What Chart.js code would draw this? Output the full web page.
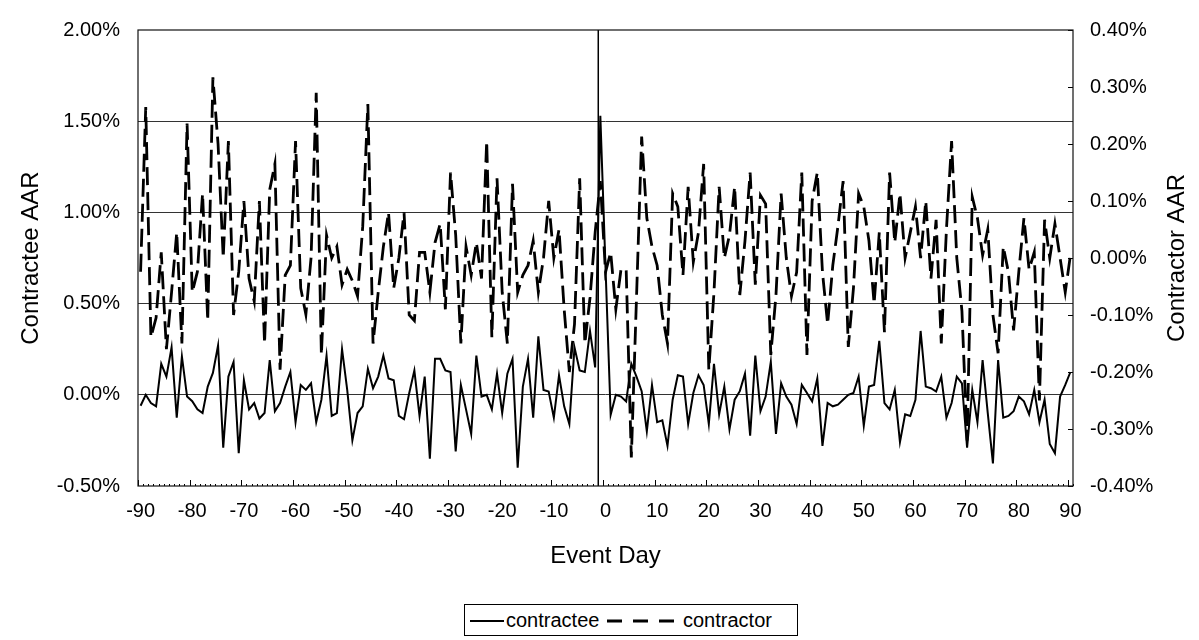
<!DOCTYPE html>
<html>
<head>
<meta charset="utf-8">
<script src="https://cdn.jsdelivr.net/npm/chart.js@4.4.1/dist/chart.umd.min.js"></script>
<style>
html,body{margin:0;padding:0;background:#fff;}
#wrap{position:relative;width:1199px;height:640px;overflow:hidden;}
#chart{position:absolute;left:0;top:0;}
#legend{position:absolute;left:464px;top:604px;width:334px;height:32px;border:1px solid #000;box-sizing:border-box;background:#fff;
  font-family:"Liberation Sans",Arial,Helvetica,sans-serif;font-size:20px;color:#000;}
#legend .item{position:absolute;top:3px;line-height:24px;white-space:nowrap;}
#legend svg{position:absolute;top:14px;}
</style>
</head>
<body>
<div id="wrap">
<canvas id="chart" width="1199" height="640"></canvas>
<div id="legend">
  <svg style="left:5px" width="34" height="4"><line x1="0" y1="2" x2="34" y2="2" stroke="#000" stroke-width="2"/></svg>
  <span class="item" style="left:41px">contractee</span>
  <svg style="left:142px" width="68" height="4"><line x1="0" y1="2" x2="68" y2="2" stroke="#000" stroke-width="3" stroke-dasharray="15 11"/></svg>
  <span class="item" style="left:218px">contractor</span>
</div>
</div>
<script>
// ---- data ----
const firstDay = -90, lastDay = 90;
const days = [];
for (let d = firstDay; d <= lastDay; d++) days.push(d);

// Contractee AAR (%), days -90..90
const contractee = [
  -0.06, 0.00, -0.045, -0.063, 0.17, 0.10, 0.26, -0.125, 0.21, -0.01,     // -90..-81
  -0.035, -0.08, -0.10, 0.045, 0.12, 0.27, -0.29, 0.10, 0.18, -0.32,      // -80..-71
  0.08, -0.08, -0.045, -0.13, -0.10, 0.19, -0.09, -0.045, 0.045, 0.125,   // -70..-61
  -0.15, 0.054, 0.027, 0.063, -0.15, -0.027, 0.215, -0.116, -0.10, 0.25,  // -60..-51
  0.027, -0.25, -0.10, -0.063, 0.143, 0.036, 0.10, 0.215, 0.09, 0.08,     // -50..-41
  -0.116, -0.134, 0.009, 0.134, -0.116, 0.10, -0.35, 0.197, 0.197, 0.134, // -40..-31
  0.125, -0.31, 0.054, -0.08, -0.215, 0.215, -0.01, 0.00, -0.08, 0.116,   // -30..-21
  -0.10, 0.116, 0.197, -0.40, 0.045, 0.197, -0.125, 0.32, 0.027, 0.018,   // -20..-11
  -0.125, 0.107, -0.063, -0.16, 0.26, 0.134, 0.125, 0.35, 0.15, 1.53,     // -10..-1
  0.70,                                                                   // 0
  -0.11, 0.00, -0.01, -0.036, 0.17, 0.10, 0.02, -0.20, 0.054, -0.15,      // 1..10
  -0.14, -0.28, -0.027, 0.107, 0.10, -0.16, 0.01, 0.107, 0.054, -0.16,    // 11..20
  0.17, -0.107, 0.045, -0.19, -0.027, 0.02, 0.116, -0.224, 0.215, -0.09,  // 21..30
  -0.01, 0.18, -0.215, 0.063, -0.01, -0.054, -0.16, 0.054, 0.01, -0.036,  // 31..40
  0.09, -0.28, -0.045, -0.063, -0.054, -0.027, 0.00, 0.01, 0.10, -0.17,   // 41..50
  0.045, 0.054, 0.296, -0.045, -0.08, 0.027, -0.26, -0.107, -0.116, -0.027, // 51..60
  0.35, 0.045, 0.036, 0.018, 0.10, -0.125, -0.045, 0.10, 0.063, -0.29,    // 61..70
  0.027, -0.15, 0.19, -0.10, -0.376, 0.19, -0.125, -0.116, -0.09, -0.01,  // 71..80
  -0.036, -0.107, 0.027, -0.15, -0.027, -0.27, -0.32, -0.01, 0.054, 0.125 // 81..90
];

// Contractor AAR (%), days -90..90
const contractor = [
  -0.024, 0.265, -0.139, -0.105, 0.01, -0.16, -0.06, 0.045, -0.15, 0.236,   // -90..-81
  -0.06, -0.024, 0.113, -0.11, 0.317, 0.20, 0.00, 0.205, -0.10, -0.024,     // -80..-71
  0.10, -0.036, -0.076, 0.10, -0.15, 0.12, 0.165, -0.196, -0.03, -0.013,    // -70..-61
  0.205, -0.053, -0.099, 0.00, 0.29, -0.17, 0.04, 0.00, 0.02, -0.047,       // -60..-51
  -0.02, -0.04, -0.067, 0.055, 0.27, -0.15, -0.06, 0.02, 0.08, -0.053,      // -50..-41
  0.00, 0.08, -0.10, -0.11, 0.01, 0.01, -0.06, 0.027, 0.06, -0.09,          // -40..-31
  0.15, 0.04, -0.15, 0.02, -0.03, 0.027, -0.036, 0.205, -0.139, 0.14,       // -30..-21
  -0.06, -0.15, 0.13, -0.06, -0.03, -0.013, 0.03, -0.06, 0.00, 0.10,        // -20..-11
  0.00, 0.05, -0.09, -0.20, -0.116, 0.14, -0.15, -0.07, 0.045, 0.135,       // -10..-1
  -0.025,                                                                   // 0
  0.01, -0.09, -0.02, -0.02, -0.35, -0.07, 0.213, 0.07, 0.02, -0.013,       // 1..10
  -0.10, -0.15, 0.113, 0.09, -0.03, 0.125, -0.007, 0.045, 0.165, -0.196,    // 11..20
  -0.06, 0.125, 0.00, 0.04, 0.125, -0.065, 0.03, 0.15, -0.047, 0.11,        // 21..30
  0.095, -0.17, -0.065, 0.113, 0.00, -0.067, -0.025, 0.15, -0.17, 0.10,     // 31..40
  0.15, -0.025, -0.116, -0.013, 0.056, 0.135, -0.156, -0.053, 0.113, 0.09,  // 41..50
  0.03, -0.08, 0.045, -0.13, 0.15, 0.027, 0.113, 0.00, 0.045, 0.09,         // 51..60
  0.00, 0.10, -0.036, 0.067, -0.15, 0.05, 0.205, 0.00, -0.093, -0.32,       // 61..70
  0.107, 0.07, 0.005, 0.05, -0.10, -0.167, 0.02, -0.025, -0.127, -0.025,    // 71..80
  0.07, -0.02, 0.01, -0.25, 0.067, 0.00, 0.06, 0.00, -0.06, 0.005           // 81..90
];

const xTickValues = [-90,-80,-70,-60,-50,-40,-30,-20,-10,0,10,20,30,40,50,60,70,80,90];
const xTickLabels = ['-90','-80','-70','-60','-50','-40','-30','-20','-10','0','10','20','30','40','50','60','70','80','90'];
const yTickValues = [-0.5, 0, 0.5, 1.0, 1.5, 2.0];
const yTickLabels = ['-0.50%','0.00%','0.50%','1.00%','1.50%','2.00%'];
const y2TickValues = [-0.4,-0.3,-0.2,-0.1,0,0.1,0.2,0.3,0.4];
const y2TickLabels = ['-0.40%','-0.30%','-0.20%','-0.10%','0.00%','0.10%','0.20%','0.30%','0.40%'];
const eventLineDay = -1.4;

const FONT = '"Liberation Sans", Arial, Helvetica, sans-serif';
Chart.defaults.font.family = FONT;
Chart.defaults.color = '#000';

const decor = {
  id: 'decor',
  afterDatasetsDraw(chart) {
    const {ctx, chartArea: a, scales} = chart;
    ctx.save();
    // event-day vertical line
    const vx = scales.x.getPixelForValue(eventLineDay);
    ctx.strokeStyle = '#000'; ctx.lineWidth = 1.5;
    ctx.beginPath(); ctx.moveTo(vx, a.top); ctx.lineTo(vx, a.bottom); ctx.stroke();
    // bottom axis ticks (inward): major every 10 categories, minor every category
    ctx.lineWidth = 1;
    for (let d = firstDay; d <= lastDay + 1; d++) {
      const bx = Math.round(scales.x.getPixelForValue(d - 0.5)) + 0.5;
      const major = ((d - firstDay) % 10 === 0);
      ctx.beginPath(); ctx.moveTo(bx, a.bottom); ctx.lineTo(bx, a.bottom - (major ? 6 : 2)); ctx.stroke();
    }
    // right axis ticks (inward)
    y2TickValues.forEach(v => {
      const py = Math.round(scales.y2.getPixelForValue(v)) + 0.5;
      ctx.beginPath(); ctx.moveTo(a.right, py); ctx.lineTo(a.right - 5, py); ctx.stroke();
    });
    // plot frame
    ctx.strokeStyle = '#111'; ctx.lineWidth = 1.2;
    ctx.strokeRect(a.left, a.top, a.right - a.left, a.bottom - a.top);
    ctx.restore();
  },
  afterDraw(chart) {
    const {ctx, chartArea: a} = chart;
    ctx.save();
    ctx.fillStyle = '#000';
    ctx.font = '24px ' + FONT;
    ctx.textAlign = 'center'; ctx.textBaseline = 'middle';
    ctx.fillText('Event Day', (a.left + a.right) / 2, 556);
    const midY = (a.top + a.bottom) / 2;
    ctx.save(); ctx.translate(31, midY); ctx.rotate(-Math.PI / 2);
    ctx.fillText('Contractee AAR', 0, 0); ctx.restore();
    ctx.save(); ctx.translate(1177, midY); ctx.rotate(-Math.PI / 2);
    ctx.fillText('Contractor AAR', 0, 0); ctx.restore();
    ctx.restore();
  }
};

new Chart(document.getElementById('chart'), {
  type: 'line',
  data: {
    datasets: [
      {
        label: 'contractee',
        data: contractee.map((v, i) => ({x: days[i], y: v})),
        yAxisID: 'y',
        borderColor: '#000', borderWidth: 2,
        pointRadius: 0, tension: 0, fill: false, order: 1
      },
      {
        label: 'contractor',
        data: contractor.map((v, i) => ({x: days[i], y: v})),
        yAxisID: 'y2',
        borderColor: '#000', borderWidth: 2.8, borderDash: [18, 7],
        pointRadius: 0, tension: 0, fill: false, order: 0
      }
    ]
  },
  options: {
    responsive: false,
    animation: false,
    events: [],
    layout: {padding: {top: 21, bottom: 114, left: 0, right: 0}},
    plugins: {legend: {display: false}, tooltip: {enabled: false}},
    scales: {
      x: {
        type: 'linear', min: firstDay - 0.5, max: lastDay + 0.5,
        afterBuildTicks: s => { s.ticks = xTickValues.map(v => ({value: v})); },
        afterFit: s => { s.height = 40; },
        grid: {display: false, drawTicks: false},
        border: {display: false},
        ticks: {
          autoSkip: false, maxRotation: 0, padding: 13,
          font: {size: 20}, color: '#000',
          callback: v => xTickLabels[xTickValues.indexOf(v)]
        }
      },
      y: {
        position: 'left', min: -0.5, max: 2.0,
        afterBuildTicks: s => { s.ticks = yTickValues.map(v => ({value: v})); },
        afterFit: s => { s.width = 138; },
        grid: {
          drawTicks: false, lineWidth: 1,
          color: c => (c.tick && (c.tick.value === -0.5 || c.tick.value === 2.0)) ? 'rgba(0,0,0,0)' : '#333'
        },
        border: {display: false},
        ticks: {
          padding: 18, font: {size: 20}, color: '#000',
          callback: v => yTickLabels[yTickValues.indexOf(v)]
        }
      },
      y2: {
        position: 'right', min: -0.4, max: 0.4,
        afterBuildTicks: s => { s.ticks = y2TickValues.map(v => ({value: v})); },
        afterFit: s => { s.width = 126; },
        grid: {drawOnChartArea: false, drawTicks: false},
        border: {display: false},
        ticks: {
          padding: 17, font: {size: 20}, color: '#000',
          callback: v => y2TickLabels[y2TickValues.indexOf(v)]
        }
      }
    }
  },
  plugins: [decor]
});
</script>
</body>
</html>
